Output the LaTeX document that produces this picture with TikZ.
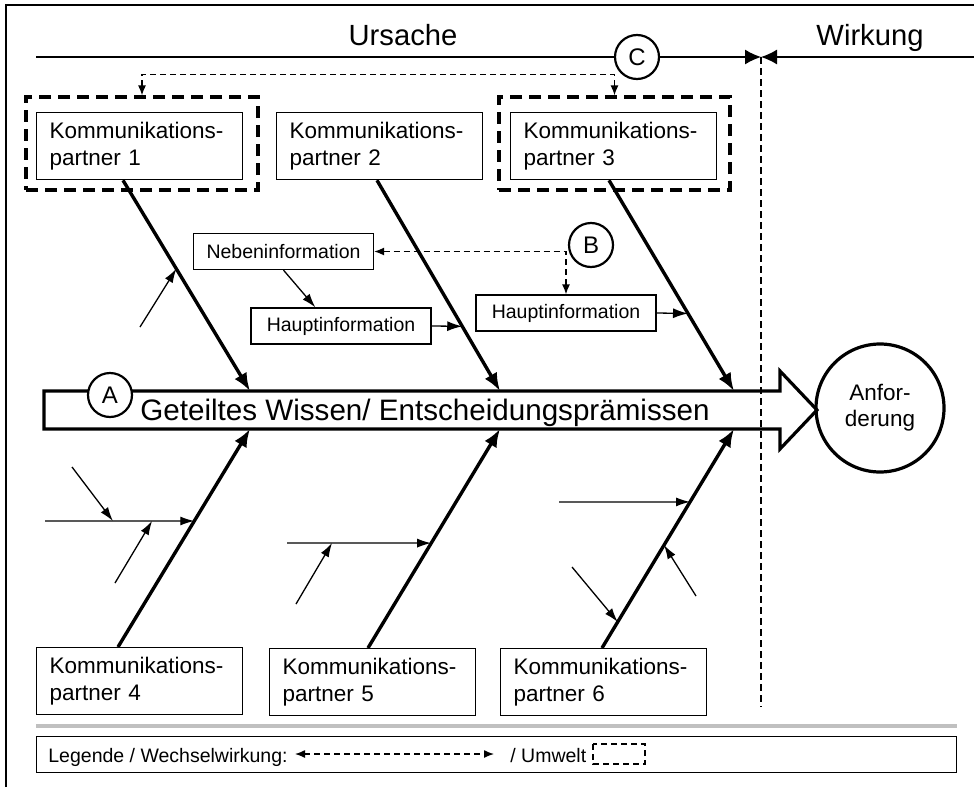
\documentclass[tikz,border=0pt]{standalone}
\usepackage{fontspec}
\setmainfont{Liberation Sans}
\usepackage{xcolor}
\definecolor{ki}{HTML}{000000}
\definecolor{ksep}{HTML}{c0c0c0}
\usetikzlibrary{arrows.meta,calc}

\begin{document}
\begin{tikzpicture}[x=0.5pt,y=-0.5pt,
  partner/.style={draw,line width=0.65pt,anchor=north west,text width=90pt,
    inner xsep=6.5pt,minimum height=33.5pt,align=left,
    font=\fontsize{11.25}{13.5}\selectfont},
  info/.style={draw,line width=0.65pt,minimum width=90pt,minimum height=18pt,
    inner sep=0pt,font=\fontsize{9.75}{11}\selectfont},
  letter/.style={draw,circle,fill=white,line width=1.1pt,minimum size=22pt,
    inner sep=0pt,font=\fontsize{12}{12}\selectfont},
  umwelt/.style={draw,line width=1.6pt,dash pattern=on 6pt off 3.5pt},
  bone/.style={line width=1.7pt,-{Latex[length=9pt,width=7pt]}},
  twig/.style={line width=0.65pt,-{Latex[length=7pt,width=4.5pt]}},
  wechsel/.style={line width=0.65pt,dash pattern=on 3pt off 2pt,
    {Latex[length=5pt,width=4pt]}-{Latex[length=5pt,width=4pt]}},
  head/.style={font=\fontsize{14.6}{16}\selectfont,anchor=base},
]
  \useasboundingbox (0,0) rectangle (974,787);

  % frame, top and left only
  \draw[ki,line width=1.25pt] (6,787) -- (6,5) -- (974,5);

  % Ursache | Wirkung
  \coordinate (grenze) at (761,57);
  \coordinate (grenzeunten) at (761,707);
  \coordinate (links) at (36,57);
  \coordinate (rechts) at (974,57);
  \draw[line width=0.65pt,-{Latex[length=8pt,width=7.5pt]}] (links) -- (grenze);
  \draw[line width=0.65pt,-{Latex[length=8pt,width=7.5pt]}] (rechts) -- (grenze);
  \draw[line width=0.65pt,dash pattern=on 3.5pt off 2pt] (grenze) -- (grenzeunten);
  \node[head] (ursache) at (403,45) {Ursache};
  \node[head] (wirkung) at (870,45) {Wirkung};

  % the six partners
  \node[partner] (kp1) at (36,112)  {Kommunikations-\\partner 1};
  \node[partner] (kp2) at (276,112) {Kommunikations-\\partner 2};
  \node[partner] (kp3) at (510,112) {Kommunikations-\\partner 3};
  \node[partner] (kp4) at (36,647)  {Kommunikations-\\partner 4};
  \node[partner] (kp5) at (269,648) {Kommunikations-\\partner 5};
  \node[partner] (kp6) at (500,648) {Kommunikations-\\partner 6};

  % environment around partner 1 and 3
  \node[umwelt,minimum width=116pt,minimum height=46.5pt] (u1) at (142,143.5) {};
  \node[umwelt,minimum width=115.5pt,minimum height=46.5pt] (u3) at (614.5,143.5) {};
  \draw[wechsel] (u1.north) -- ++(0,-21) -| (u3.north);
  \node[letter] (markC) at (637,57) {C};

  % main arrow
  \draw[line width=1.6pt] (44,391) -- (780,391) -- (780,371) -- (817,410)
    -- (780,449) -- (780,429) -- (44,429) -- cycle;
  \node[anchor=base west,inner sep=0pt,font=\fontsize{14.8}{16}\selectfont] (wissen)
    at (140,420) {Geteiltes Wissen/ Entscheidungsprämissen};
  \node[letter] (markA) at (110,395) {A};
  \node[draw,circle,line width=1.6pt,minimum size=64pt,inner sep=0pt,align=center,
    font=\fontsize{11.25}{13}\selectfont] (anf) at (880,408) {Anfor-\\derung};

  % bones
  \coordinate (b1) at (250,391);
  \coordinate (b2) at (500,391);
  \coordinate (b3) at (734,391);
  \coordinate (b4) at (250,429);
  \coordinate (b5) at (500,429);
  \coordinate (b6) at (734,429);
  \draw[bone] ($(kp1.south west)+(87,0)$) -- coordinate[pos=0.42] (k1) (b1);
  \draw[bone] ($(kp2.south west)+(101,0)$) -- coordinate[pos=0.693] (k2) (b2);
  \draw[bone] ($(kp3.south west)+(99,0)$) -- coordinate[pos=0.632] (k3) (b3);
  \draw[bone] ($(kp4.north west)+(82,0)$) -- coordinate[pos=0.578] (k4) (b4);
  \draw[bone] ($(kp5.north west)+(99,0)$) -- coordinate[pos=0.479] (k5) (b5);
  \draw[bone] ($(kp6.north west)+(102,0)$) -- coordinate[pos=0.667] (k6a)
    coordinate[pos=0.119] (k6b) coordinate[pos=0.47] (k6c) (b6);

  % information
  \node[info] (neben) at (283.5,251.5) {Nebeninformation};
  \node[info] (haupt1) at (341,326) {Hauptinformation};
  \node[info] (haupt2) at (566,313) {Hauptinformation};
  \draw[twig] (neben.south) -- ($(haupt1.north west)+(65,0)$);
  \draw[twig,-{Latex[length=7.5pt,width=5pt]}] (haupt1.east) -- (k2);
  \draw[twig,-{Latex[length=7.5pt,width=5pt]}] (haupt2.east) -- (k3);
  \draw[wechsel] (neben.east) -| (haupt2.north);
  \node[letter] (markB) at (591,245) {B};

  % side twigs
  \coordinate (t1) at (140,327);
  \draw[twig] (t1) -- (k1);

  \coordinate (h4) at (45,521);
  \coordinate (t4a) at (72,467);
  \coordinate (t4b) at (115,583);
  \draw[twig] (h4) -- coordinate[pos=0.455] (h4a) coordinate[pos=0.717] (h4b) (k4);
  \draw[twig] (t4a) -- (h4a);
  \draw[twig] (t4b) -- (h4b);

  \coordinate (h5) at (287,543);
  \coordinate (t5) at (296,604);
  \draw[twig] (h5) -- coordinate[pos=0.312] (h5a) (k5);
  \draw[twig] (t5) -- (h5a);

  \coordinate (h6) at (559,502);
  \coordinate (t6b) at (572,567);
  \coordinate (t6c) at (696,596);
  \draw[twig] (h6) -- (k6a);
  \draw[twig] (t6b) -- (k6b);
  \draw[twig] (t6c) -- (k6c);

  % legend
  \draw[ksep,line width=2pt] (36,726) -- (957,726);
  \node[draw,line width=0.65pt,anchor=north west,minimum width=460pt,
    minimum height=18pt,inner sep=0pt] (legende) at (36,736) {};
  \node[anchor=base west,inner sep=0pt,font=\fontsize{9.75}{11}\selectfont]
    (lgtext) at (48,762) {Legende / Wechselwirkung:};
  \coordinate (lw1) at (295,754);
  \coordinate (lw2) at (494,754);
  \draw[wechsel] (lw1) -- (lw2);
  \node[anchor=base west,inner sep=0pt,font=\fontsize{9.75}{11}\selectfont]
    (lgumwelt) at (510,762) {/ Umwelt};
  \draw[line width=0.6pt,dash pattern=on 3pt off 2pt] (593,744) rectangle (645,764);

\end{tikzpicture}
\end{document}
